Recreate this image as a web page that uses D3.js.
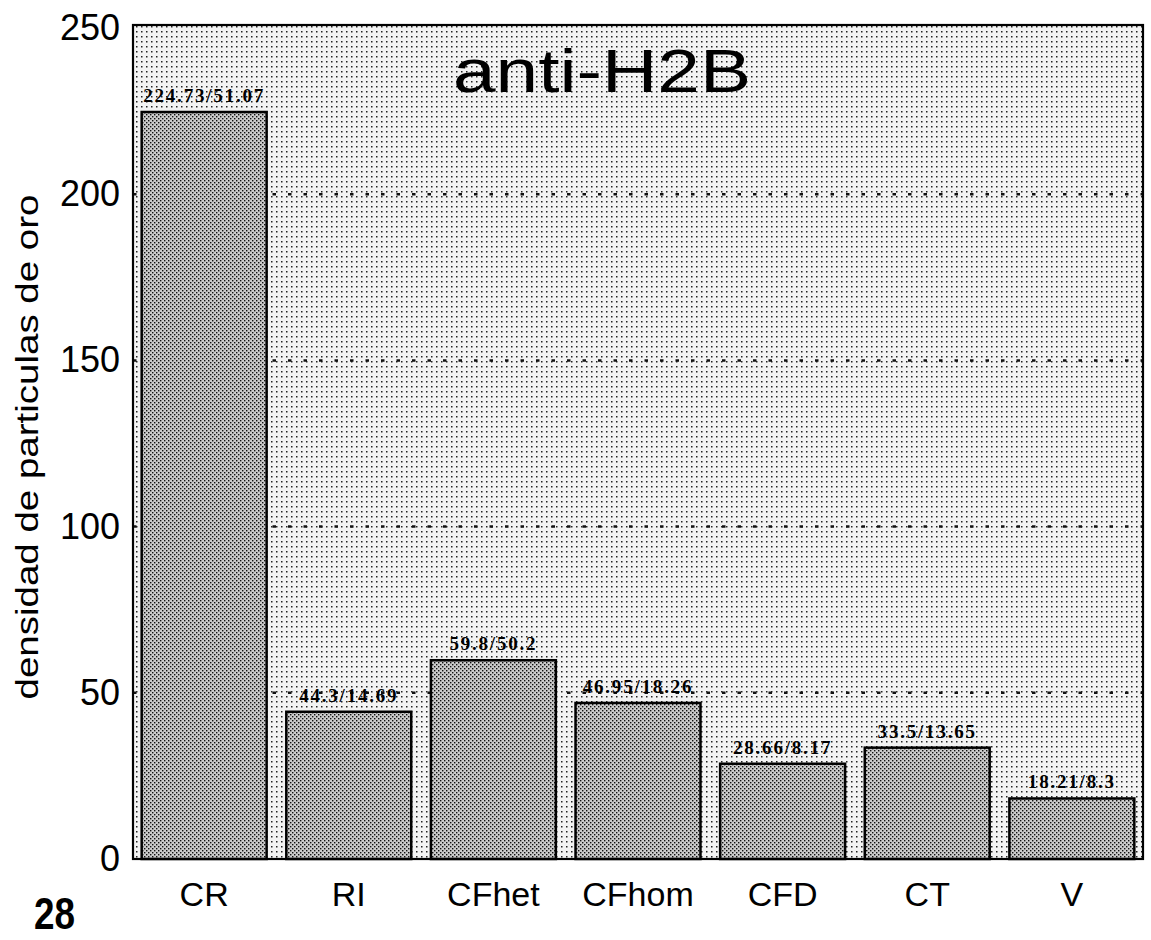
<!DOCTYPE html>
<html>
<head>
<meta charset="utf-8">
<script src="https://cdn.jsdelivr.net/npm/d3@7"></script>
<style>
  html, body { margin: 0; padding: 0; background: #ffffff; }
  svg { display: block; }
</style>
</head>
<body>
<svg id="chart" width="1151" height="940"></svg>
<script>
// ---- data ----
const categories = ["CR", "RI", "CFhet", "CFhom", "CFD", "CT", "V"];
const means = [224.73, 44.3, 59.8, 46.95, 28.66, 33.5, 18.21];
const sds = [51.07, 14.69, 50.2, 18.26, 8.17, 13.65, 8.3];
const yTicks = [0, 50, 100, 150, 200, 250];
const gridValues = [50, 100, 150, 200];
const titleText = "anti-H2B";
const yAxisTitle = "densidad de particulas de oro";
const pageNumber = "28";

// ---- layout ----
const plot = { left: 133, right: 1143, top: 25, bottom: 859 };

const svg = d3.select("#chart");
const defs = svg.append("defs");

// background dotted screen
const bgPat = defs.append("pattern").attr("id", "bgDots")
  .attr("patternUnits", "userSpaceOnUse").attr("width", 5).attr("height", 5);
bgPat.append("rect").attr("width", 5).attr("height", 5).attr("fill", "#f3f3f3");
bgPat.append("rect").attr("x", 1).attr("y", 1).attr("width", 1.5).attr("height", 1.5).attr("fill", "#222");

// bar halftone
const barPat = defs.append("pattern").attr("id", "barDots")
  .attr("patternUnits", "userSpaceOnUse").attr("width", 4).attr("height", 4);
barPat.append("rect").attr("width", 4).attr("height", 4).attr("fill", "#cbcbcb");
barPat.append("rect").attr("x", 0).attr("y", 0).attr("width", 1.4).attr("height", 1.4).attr("fill", "#111");
barPat.append("rect").attr("x", 2).attr("y", 2).attr("width", 1.4).attr("height", 1.4).attr("fill", "#111");

const x = d3.scaleBand()
  .domain(categories)
  .range([plot.left, plot.right])
  .paddingInner(0.136)
  .paddingOuter(0.06);

const y = d3.scaleLinear()
  .domain([0, 250])
  .range([plot.bottom, 28]);

// plot background
svg.append("rect")
  .attr("x", plot.left).attr("y", plot.top)
  .attr("width", plot.right - plot.left).attr("height", plot.bottom - plot.top)
  .attr("fill", "url(#bgDots)");

// gridlines
svg.append("g").selectAll("line").data(gridValues).join("line")
  .attr("x1", plot.left).attr("x2", plot.right)
  .attr("y1", d => y(d)).attr("y2", d => y(d))
  .attr("stroke", "#111").attr("stroke-width", 2.5)
  .attr("stroke-dasharray", "3.5 12");

// bars
svg.append("g").selectAll("rect").data(categories).join("rect")
  .attr("x", d => x(d))
  .attr("y", (d, i) => y(means[i]))
  .attr("width", x.bandwidth())
  .attr("height", (d, i) => y(0) - y(means[i]))
  .attr("fill", "url(#barDots)")
  .attr("stroke", "#000").attr("stroke-width", 2.5);

// value labels
svg.append("g").selectAll("text").data(categories).join("text")
  .attr("x", d => x(d) + x.bandwidth() / 2)
  .attr("y", (d, i) => y(means[i]) - 10)
  .attr("text-anchor", "middle")
  .attr("font-family", "'Liberation Serif', 'Times New Roman', serif")
  .attr("font-weight", "bold")
  .attr("font-size", 19)
  .attr("letter-spacing", 1.8)
  .attr("fill", "#000")
  .text((d, i) => `${means[i]}/${sds[i]}`);

// frame
svg.append("rect")
  .attr("x", plot.left).attr("y", plot.top)
  .attr("width", plot.right - plot.left).attr("height", plot.bottom - plot.top)
  .attr("fill", "none").attr("stroke", "#000").attr("stroke-width", 2.2);

// y axis (labels only)
const yAxis = d3.axisLeft(y).tickValues(yTicks).tickSize(0).tickPadding(13);
const gy = svg.append("g").attr("transform", `translate(${plot.left},0)`).call(yAxis);
gy.select(".domain").remove();
gy.selectAll("text")
  .attr("font-family", "'Liberation Sans', Arial, sans-serif")
  .attr("font-size", 36)
  .attr("fill", "#000");

// x axis (labels only)
const xAxis = d3.axisBottom(x).tickSize(0).tickPadding(23);
const gx = svg.append("g").attr("transform", `translate(0,${plot.bottom})`).call(xAxis);
gx.select(".domain").remove();
gx.selectAll("text")
  .attr("font-family", "'Liberation Sans', Arial, sans-serif")
  .attr("font-size", 34)
  .attr("fill", "#000");

// title
svg.append("text")
  .attr("x", 602).attr("y", 92)
  .attr("text-anchor", "middle")
  .attr("font-family", "'Liberation Sans', Arial, sans-serif")
  .attr("font-size", 62)
  .attr("textLength", 298)
  .attr("lengthAdjust", "spacingAndGlyphs")
  .attr("fill", "#000")
  .text(titleText);

// y axis title
svg.append("text")
  .attr("transform", "translate(38,447) rotate(-90)")
  .attr("text-anchor", "middle")
  .attr("font-family", "'Liberation Sans', Arial, sans-serif")
  .attr("font-size", 32)
  .attr("textLength", 505)
  .attr("lengthAdjust", "spacingAndGlyphs")
  .attr("fill", "#000")
  .text(yAxisTitle);

// page number (condensed bold)
svg.append("text")
  .attr("transform", "translate(34,929) scale(0.82,1)")
  .attr("font-family", "'Liberation Sans', Arial, sans-serif")
  .attr("font-weight", "bold")
  .attr("font-size", 45)
  .attr("fill", "#000")
  .text(pageNumber);
</script>
</body>
</html>
